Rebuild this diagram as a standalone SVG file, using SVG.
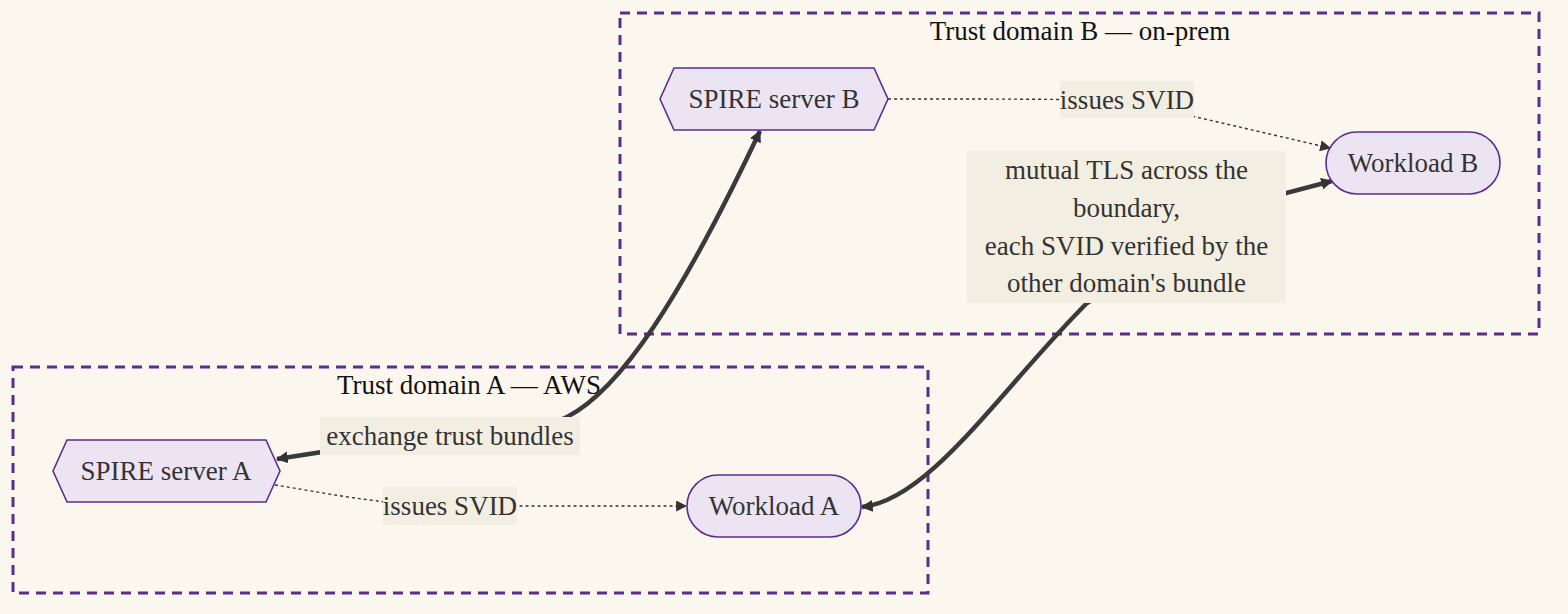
<svg xmlns="http://www.w3.org/2000/svg" width="1568" height="614" viewBox="0 0 1568 614">
<defs>
<style>
.cluster{fill:none;stroke:#5b2d8e;stroke-width:3;stroke-dasharray:10 7}
.ctitle{font-family:"Liberation Serif",serif;font-size:27px;fill:#111;text-anchor:middle;dominant-baseline:central}
.node{fill:#ece4f3;stroke:#5b2d8e;stroke-width:1.6}
.ntext{font-family:"Liberation Serif",serif;font-size:27px;fill:#333;text-anchor:middle;dominant-baseline:central}
.lbg{fill:#f3eee2}
.ltext{font-family:"Liberation Serif",serif;font-size:27px;fill:#333;text-anchor:middle;dominant-baseline:central}
.dotted{fill:none;stroke:#333;stroke-width:1.4;stroke-dasharray:3 3}
.thick{fill:none;stroke:#3a3a3a;stroke-width:4.5}
</style>
<marker id="arrow" viewBox="0 0 10 10" refX="9" refY="5" markerWidth="12" markerHeight="12" markerUnits="userSpaceOnUse" orient="auto-start-reverse">
<path d="M0,0 L10,5 L0,10 z" fill="#333"/>
</marker>
<marker id="arrowS" viewBox="0 0 10 10" refX="9" refY="5" markerWidth="11" markerHeight="11" markerUnits="userSpaceOnUse" orient="auto-start-reverse">
<path d="M0,0 L10,5 L0,10 z" fill="#333"/>
</marker>
</defs>
<rect width="1568" height="614" fill="#fbf7ef"/>
<g id="clusterB">
<rect class="cluster" x="620" y="13" width="919" height="321"/>
<text class="ctitle" x="1080" y="31">Trust domain B — on-prem</text>
</g>
<g id="clusterA">
<rect class="cluster" x="13" y="367" width="915" height="226"/>
<text class="ctitle" x="469" y="385">Trust domain A — AWS</text>
</g>
<g id="connectors">
<path class="dotted" d="M888,99 C1000,99 1080,99 1127,101 L1330,148" marker-end="url(#arrowS)"/>
<path class="dotted" d="M275,485 C320,492 380,505 450,506 L686,506" marker-end="url(#arrowS)"/>
<path class="thick" d="M277,459 L322,452 C420,440 520,440 567,417 C620,390 680,300 760,131" marker-start="url(#arrow)" marker-end="url(#arrow)"/>
<path class="thick" d="M862,507 C930,500 1000,390 1087,303 L1286,193 L1332,181" marker-start="url(#arrow)" marker-end="url(#arrow)"/>
<g id="label-issuesB">
<rect class="lbg" x="1060" y="81" width="134" height="37"/>
<text class="ltext" x="1127" y="99.5">issues SVID</text>
</g>
<g id="label-issuesA">
<rect class="lbg" x="383" y="487" width="134" height="38"/>
<text class="ltext" x="450" y="506">issues SVID</text>
</g>
<g id="label-exchange">
<rect class="lbg" x="320" y="417" width="260" height="38"/>
<text class="ltext" x="450" y="436">exchange trust bundles</text>
</g>
<g id="label-mtls">
<rect class="lbg" x="967" y="151" width="319" height="152"/>
<text class="ltext" x="1126.5" y="170">mutual TLS across the</text>
<text class="ltext" x="1126.5" y="208">boundary,</text>
<text class="ltext" x="1126.5" y="245.5">each SVID verified by the</text>
<text class="ltext" x="1126.5" y="283">other domain's bundle</text>
</g>
</g>
<g id="spireB">
<polygon class="node" points="660,99 674,68 874,68 888,99 874,130 674,130"/>
<text class="ntext" x="774" y="99">SPIRE server B</text>
</g>
<g id="workloadB">
<rect class="node" x="1326" y="132" width="174" height="62" rx="31" ry="31"/>
<text class="ntext" x="1413" y="163">Workload B</text>
</g>
<g id="spireA">
<polygon class="node" points="53,471 67,440 266,440 280,471 266,502 67,502"/>
<text class="ntext" x="166" y="471">SPIRE server A</text>
</g>
<g id="workloadA">
<rect class="node" x="687" y="475" width="174" height="62" rx="31" ry="31"/>
<text class="ntext" x="774" y="506">Workload A</text>
</g>
</svg>
